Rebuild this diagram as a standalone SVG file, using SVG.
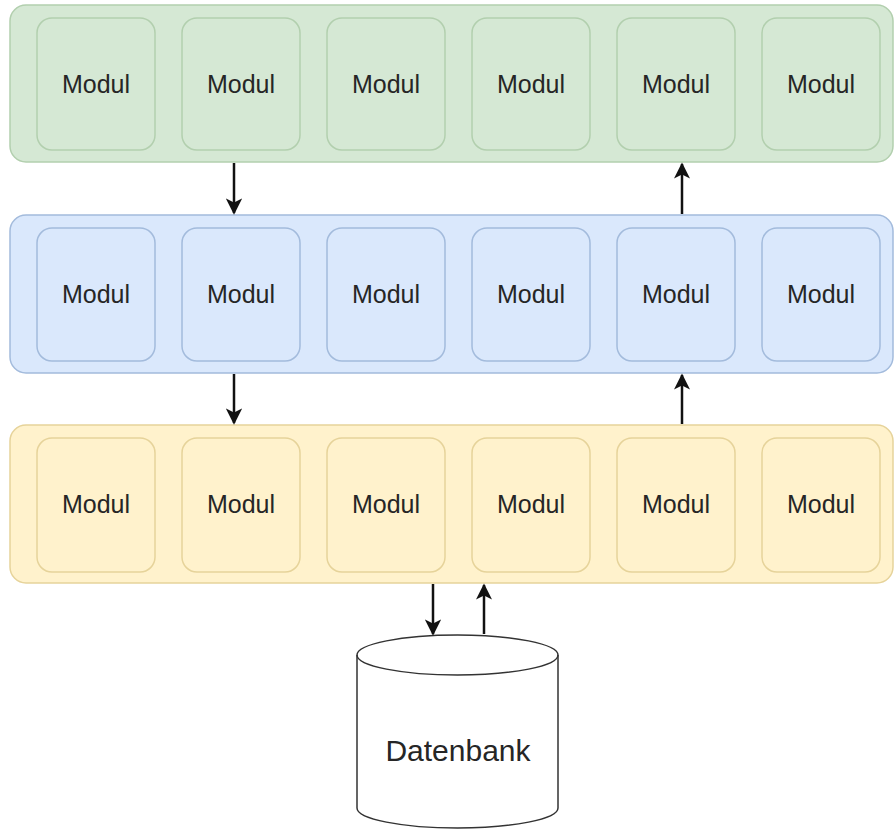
<svg xmlns="http://www.w3.org/2000/svg" width="895" height="830" viewBox="0 0 895 830">
<style>
.t{font-family:"Liberation Sans",Arial,sans-serif;font-size:25px;fill:#262626;text-anchor:middle}
.g{fill:#d5e8d4;stroke:#b2cfae;stroke-width:1.5}
.b{fill:#dae8fc;stroke:#a3bbdc;stroke-width:1.5}
.y{fill:#fff2cc;stroke:#e6d39a;stroke-width:1.5}
.c{stroke:#111;stroke-width:2.5;fill:none}
</style>
<defs>
<marker id="ah" viewBox="0 0 10 10" refX="9" refY="5" markerWidth="7" markerHeight="6.5" orient="auto" markerUnits="strokeWidth">
<path d="M0,0 L10,5 L0,10 L2.5,5 Z" fill="#111"/>
</marker>
</defs>
<rect width="895" height="830" fill="#ffffff"/>
<g id="layer-green">
<rect class="g" x="10" y="5" width="883" height="157" rx="16"/>
<g id="g1"><rect class="g" x="37" y="18" width="118" height="132" rx="15"/><text class="t" x="96" y="93">Modul</text></g>
<g id="g2"><rect class="g" x="182" y="18" width="118" height="132" rx="15"/><text class="t" x="241" y="93">Modul</text></g>
<g id="g3"><rect class="g" x="327" y="18" width="118" height="132" rx="15"/><text class="t" x="386" y="93">Modul</text></g>
<g id="g4"><rect class="g" x="472" y="18" width="118" height="132" rx="15"/><text class="t" x="531" y="93">Modul</text></g>
<g id="g5"><rect class="g" x="617" y="18" width="118" height="132" rx="15"/><text class="t" x="676" y="93">Modul</text></g>
<g id="g6"><rect class="g" x="762" y="18" width="118" height="132" rx="15"/><text class="t" x="821" y="93">Modul</text></g>
</g>
<g id="layer-blue">
<rect class="b" x="10" y="215" width="883" height="158" rx="16"/>
<g id="b1"><rect class="b" x="37" y="228" width="118" height="133" rx="15"/><text class="t" x="96" y="303">Modul</text></g>
<g id="b2"><rect class="b" x="182" y="228" width="118" height="133" rx="15"/><text class="t" x="241" y="303">Modul</text></g>
<g id="b3"><rect class="b" x="327" y="228" width="118" height="133" rx="15"/><text class="t" x="386" y="303">Modul</text></g>
<g id="b4"><rect class="b" x="472" y="228" width="118" height="133" rx="15"/><text class="t" x="531" y="303">Modul</text></g>
<g id="b5"><rect class="b" x="617" y="228" width="118" height="133" rx="15"/><text class="t" x="676" y="303">Modul</text></g>
<g id="b6"><rect class="b" x="762" y="228" width="118" height="133" rx="15"/><text class="t" x="821" y="303">Modul</text></g>
</g>
<g id="layer-yellow">
<rect class="y" x="10" y="425" width="883" height="158" rx="16"/>
<g id="y1"><rect class="y" x="37" y="438" width="118" height="134" rx="15"/><text class="t" x="96" y="513">Modul</text></g>
<g id="y2"><rect class="y" x="182" y="438" width="118" height="134" rx="15"/><text class="t" x="241" y="513">Modul</text></g>
<g id="y3"><rect class="y" x="327" y="438" width="118" height="134" rx="15"/><text class="t" x="386" y="513">Modul</text></g>
<g id="y4"><rect class="y" x="472" y="438" width="118" height="134" rx="15"/><text class="t" x="531" y="513">Modul</text></g>
<g id="y5"><rect class="y" x="617" y="438" width="118" height="134" rx="15"/><text class="t" x="676" y="513">Modul</text></g>
<g id="y6"><rect class="y" x="762" y="438" width="118" height="134" rx="15"/><text class="t" x="821" y="513">Modul</text></g>
</g>
<g id="datenbank">
<path d="M357,655 A100.5,20 0 0 1 558,655 V808 A100.5,20 0 0 1 357,808 Z" fill="#ffffff" stroke="#333" stroke-width="1.5"/>
<path d="M357,655 A100.5,20 0 0 0 558,655" fill="none" stroke="#333" stroke-width="1.5"/>
<text class="t" x="458" y="761" style="font-size:30px">Datenbank</text>
</g>
<g id="connectors">
<path class="c" d="M234,163 V213" marker-end="url(#ah)"/>
<path class="c" d="M682,214 V164" marker-end="url(#ah)"/>
<path class="c" d="M234,374 V423" marker-end="url(#ah)"/>
<path class="c" d="M682,424 V375" marker-end="url(#ah)"/>
<path class="c" d="M433,584 V634" marker-end="url(#ah)"/>
<path class="c" d="M484,634 V585" marker-end="url(#ah)"/>
</g>
</svg>
